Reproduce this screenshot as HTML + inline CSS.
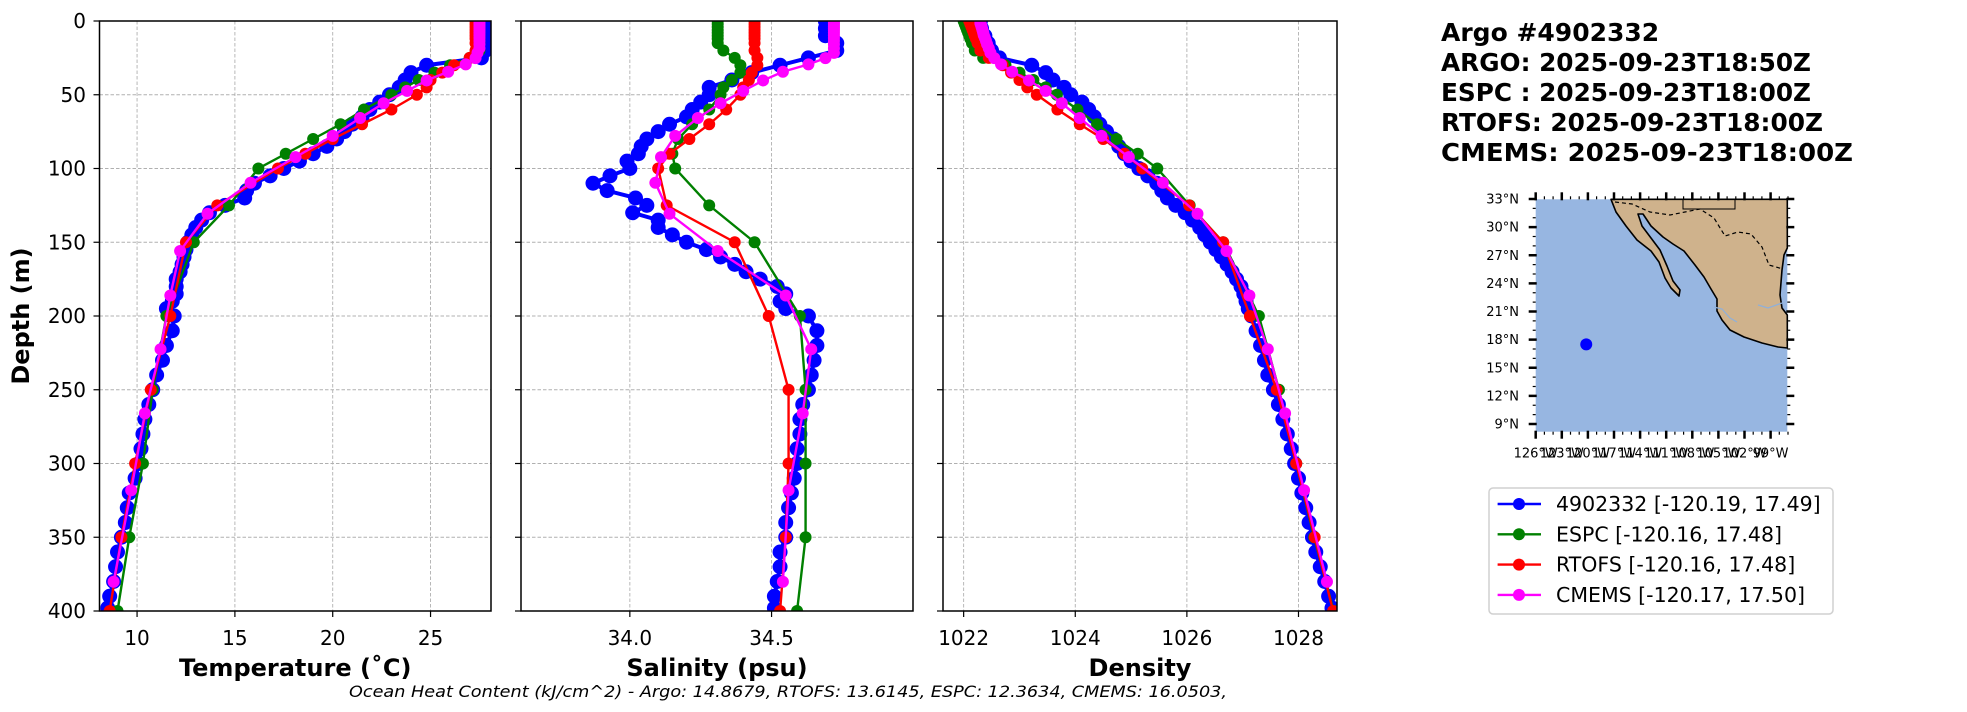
<!DOCTYPE html>
<html><head><meta charset="utf-8"><style>
html,body{margin:0;padding:0;background:#fff;}
svg{display:block;font-family:"DejaVu Sans","Liberation Sans",sans-serif;}
</style></head><body>
<svg id="fig" width="1967" height="712" viewBox="0 0 1967 712" xmlns="http://www.w3.org/2000/svg">
<g id="panels"></g>
<g id="title" font-weight="bold" font-size="25" fill="#000">
<text x="1441" y="41">Argo #4902332</text>
<text x="1441" y="71" textLength="370" lengthAdjust="spacingAndGlyphs">ARGO: 2025-09-23T18:50Z</text>
<text x="1441" y="101" textLength="370" lengthAdjust="spacingAndGlyphs">ESPC : 2025-09-23T18:00Z</text>
<text x="1441" y="131" textLength="382" lengthAdjust="spacingAndGlyphs">RTOFS: 2025-09-23T18:00Z</text>
<text x="1441" y="161" textLength="412" lengthAdjust="spacingAndGlyphs">CMEMS: 2025-09-23T18:00Z</text>
</g>
<g id="map"></g>
<g id="legend"></g>
<text x="349" y="697" font-size="16" font-style="italic" textLength="878" lengthAdjust="spacingAndGlyphs">Ocean Heat Content (kJ/cm^2) - Argo: 14.8679,  RTOFS: 13.6145,  ESPC: 12.3634,  CMEMS: 16.0503,</text>
</svg>
<script>
// ---- data ----
const argoDepth = [0,5,10,15,20,25,30,35,40,45,50,55,60,65,70,75,80,85,90,95,100,105,110,115,120,125,130,135,140,145,150,155,160,165,170,175,180,185,190,195,200,210,220,230,240,250,260,270,280,290,300,310,320,330,340,350,360,370,380,390,398];
const argoTemp = [27.8,27.8,27.8,27.8,27.8,27.6,24.8,24.0,23.7,23.4,22.9,22.4,21.9,21.5,21.0,20.6,20.2,19.7,19.0,18.3,17.5,16.8,16.0,15.6,15.5,14.5,13.7,13.3,13.0,12.8,12.6,12.5,12.4,12.3,12.2,12.0,12.0,12.0,11.8,11.5,11.9,11.8,11.5,11.3,11.0,10.8,10.6,10.4,10.3,10.2,10.1,9.9,9.6,9.5,9.4,9.2,9.0,8.9,8.8,8.6,8.5];
const argoSal = [34.69,34.69,34.69,34.73,34.73,34.63,34.53,34.43,34.36,34.28,34.28,34.25,34.22,34.2,34.14,34.1,34.06,34.04,34.03,33.99,34.0,33.93,33.87,33.92,34.02,34.06,34.01,34.1,34.1,34.15,34.2,34.27,34.32,34.37,34.41,34.46,34.52,34.55,34.53,34.55,34.63,34.66,34.66,34.65,34.64,34.63,34.61,34.6,34.6,34.59,34.59,34.58,34.57,34.56,34.55,34.55,34.53,34.53,34.52,34.51,34.51];
const argoDens = [1022.3,1022.32,1022.38,1022.44,1022.5,1022.64,1023.22,1023.47,1023.6,1023.8,1023.92,1024.12,1024.24,1024.34,1024.44,1024.56,1024.69,1024.78,1024.88,1025.0,1025.14,1025.3,1025.46,1025.55,1025.65,1025.8,1025.97,1026.1,1026.23,1026.32,1026.42,1026.52,1026.62,1026.72,1026.81,1026.89,1026.97,1027.02,1027.06,1027.1,1027.16,1027.24,1027.32,1027.39,1027.45,1027.55,1027.64,1027.72,1027.8,1027.87,1027.93,1028.0,1028.06,1028.13,1028.19,1028.25,1028.31,1028.39,1028.47,1028.54,1028.6];
const modelDepth = [0,2,4,6,8,10,12,15,20,25,30,35,40,45,50,60,70,80,90,100,125,150,200,250,300,350,400];
const espcTemp = [27.5,27.5,27.5,27.5,27.5,27.5,27.5,27.5,27.5,27.0,26.0,25.2,24.4,23.7,23.0,21.6,20.4,19.0,17.6,16.2,14.7,12.9,11.5,10.8,10.3,9.6,9.0];
const espcSal = [34.31,34.31,34.31,34.31,34.31,34.31,34.31,34.31,34.33,34.37,34.39,34.39,34.36,34.33,34.32,34.28,34.22,34.17,34.15,34.16,34.28,34.44,34.6,34.62,34.62,34.62,34.59];
const espcDens = [1022.0,1022.02,1022.04,1022.06,1022.08,1022.1,1022.12,1022.15,1022.2,1022.35,1022.75,1023.0,1023.25,1023.47,1023.67,1024.04,1024.39,1024.74,1025.12,1025.47,1026.05,1026.65,1027.29,1027.65,1027.96,1028.28,1028.63];
const rtofsTemp = [27.3,27.3,27.3,27.3,27.3,27.3,27.3,27.3,27.3,27.0,26.2,25.6,25.0,24.8,24.3,23.0,21.5,20.0,18.6,17.2,14.1,12.5,11.7,10.7,9.9,9.2,8.6];
const rtofsSal = [34.44,34.44,34.44,34.44,34.44,34.44,34.44,34.44,34.44,34.45,34.45,34.43,34.42,34.4,34.39,34.34,34.28,34.21,34.14,34.1,34.13,34.37,34.49,34.56,34.56,34.55,34.53];
const rtofsDens = [1022.1,1022.12,1022.14,1022.16,1022.18,1022.2,1022.22,1022.25,1022.3,1022.45,1022.7,1022.85,1023.0,1023.14,1023.31,1023.68,1024.08,1024.5,1024.88,1025.2,1026.04,1026.65,1027.13,1027.61,1027.96,1028.29,1028.62];
const cmemsDepth = [0.5,1.5,2.6,3.8,5.1,6.4,7.9,9.6,11.4,13.5,15.8,18.5,21.6,25.2,29.4,34.4,40.3,47.4,55.8,65.8,77.9,92.3,109.7,130.7,155.9,186.1,222.5,266,318.1,380.2];
const cmemsTemp = [27.5,27.5,27.5,27.5,27.5,27.5,27.5,27.5,27.5,27.5,27.5,27.5,27.4,27.3,26.8,25.9,24.8,23.8,22.6,21.4,20.0,18.1,15.8,13.6,12.2,11.7,11.2,10.4,9.7,8.8];
const cmemsSal = [34.72,34.72,34.72,34.72,34.72,34.72,34.72,34.72,34.72,34.72,34.72,34.72,34.72,34.69,34.63,34.54,34.47,34.40,34.32,34.24,34.16,34.11,34.09,34.14,34.31,34.55,34.64,34.61,34.56,34.54];
const cmemsDens = [1022.3,1022.3,1022.31,1022.32,1022.33,1022.34,1022.35,1022.36,1022.38,1022.4,1022.42,1022.45,1022.48,1022.55,1022.67,1022.87,1023.17,1023.47,1023.76,1024.08,1024.47,1024.96,1025.57,1026.19,1026.71,1027.12,1027.45,1027.76,1028.1,1028.51];
const depthTicks = [0,50,100,150,200,250,300,350,400];
const tempTicks = [10,15,20,25];
const salTicks = [34.0,34.5];
const salTickLabels = ["34.0","34.5"];
const densTicks = [1022,1024,1026,1028];
const legendLabels = ["4902332 [-120.19, 17.49]","ESPC [-120.16, 17.48]","RTOFS [-120.16, 17.48]","CMEMS [-120.17, 17.50]"];
const argoLon = -120.19, argoLat = 17.49;
const mapLatTicks = [9,12,15,18,21,24,27,30,33];
const mapLonTicks = [-126,-123,-120,-117,-114,-111,-108,-105,-102,-99];

const NS = "http://www.w3.org/2000/svg";
function mk(tag, attrs, parent){ const e=document.createElementNS(NS,tag); for(const k in attrs) e.setAttribute(k,attrs[k]); if(parent) parent.appendChild(e); return e; }

const top_=21, bot=611;
const yScale = d => top_ + (d/400)*(bot-top_);
const panels = [
 {name:"temperature", x0:99.5, x1:491, lo:8.08, hi:28.09, ticks:tempTicks, labels:tempTicks.map(String), xlabel:"Temperature (˚C)",
  series:[[argoDepth,argoTemp],[modelDepth,espcTemp],[modelDepth,rtofsTemp],[cmemsDepth,cmemsTemp]]},
 {name:"salinity", x0:521, x1:913, lo:33.616, hi:34.999, ticks:salTicks, labels:salTickLabels, xlabel:"Salinity (psu)",
  series:[[argoDepth,argoSal],[modelDepth,espcSal],[modelDepth,rtofsSal],[cmemsDepth,cmemsSal]]},
 {name:"density", x0:943, x1:1337, lo:1021.63, hi:1028.69, ticks:densTicks, labels:densTicks.map(String), xlabel:"Density",
  series:[[argoDepth,argoDens],[modelDepth,espcDens],[modelDepth,rtofsDens],[cmemsDepth,cmemsDens]]}
];
const colors = ["#0000ff","#008000","#ff0000","#ff00ff"];
const snames = ["argo","espc","rtofs","cmems"];
const radii = [7.5,6,6,6];
const root = document.getElementById("panels");
panels.forEach((p,pi)=>{
  const g = mk("g",{},root);
  
  
  const xs = v => p.x0 + (v-p.lo)/(p.hi-p.lo)*(p.x1-p.x0);
  const clipId="clip"+pi;
  const cp=mk("clipPath",{id:clipId},g); mk("rect",{x:p.x0,y:top_,width:p.x1-p.x0,height:bot-top_},cp);
  depthTicks.forEach(d=>{ if(d>0&&d<400){ const l=mk("line",{x1:p.x0,x2:p.x1,y1:yScale(d),y2:yScale(d),stroke:"#b0b0b0","stroke-width":0.9,"stroke-dasharray":"3.5,2"},g);
    
     }});
  p.ticks.forEach((t,i)=>{
    const x=xs(t);
    const l=mk("line",{x1:x,x2:x,y1:top_,y2:bot,stroke:"#b0b0b0","stroke-width":0.9,"stroke-dasharray":"3.5,2"},g);
    
    
    mk("line",{x1:x,x2:x,y1:bot,y2:bot+6,stroke:"#000","stroke-width":1.2},g);
    const tx=mk("text",{x:x,y:645,"font-size":20,"text-anchor":"middle"},g); tx.textContent=p.labels[i];
    
    
  });
  depthTicks.forEach(d=>{
    mk("line",{x1:p.x0-6,x2:p.x0,y1:yScale(d),y2:yScale(d),stroke:"#000","stroke-width":1.2},g);
    if(pi===0){ const tx=mk("text",{x:86,y:yScale(d)+7,"font-size":20,"text-anchor":"end"},g); tx.textContent=String(d);
      
       }
  });
  const sg=mk("g",{"clip-path":"url(#"+clipId+")"},g);
  p.series.forEach((s,si)=>{
    const [ds,vs]=s;
    const pts=ds.map((d,i)=>xs(vs[i]).toFixed(2)+","+yScale(d).toFixed(2)).join(" ");
    const ln=mk("polyline",{points:pts,fill:"none",stroke:colors[si],"stroke-width":si===0?4:2.4},sg);
    
    
    ds.forEach((d,i)=>{ const c=mk("circle",{cx:xs(vs[i]),cy:yScale(d),r:radii[si],fill:colors[si]},sg);
      
       });
  });
  const fr=mk("rect",{x:p.x0,y:top_,width:p.x1-p.x0,height:bot-top_,fill:"none",stroke:"#000","stroke-width":1.5},g);
  
  
  const xl=mk("text",{x:(p.x0+p.x1)/2,y:676,"font-size":24,"font-weight":"bold","text-anchor":"middle"},g); xl.textContent=p.xlabel;
  
  
});
const yl=mk("text",{x:0,y:0,"font-size":24,"font-weight":"bold","text-anchor":"middle",transform:"translate(29,316) rotate(-90)"},root);
yl.textContent="Depth (m)";



// ---- map ----
const mg=document.getElementById("map");
const mx0=1535.7,mx1=1787.3,my0=199.3,my1=431.7;
const lonX = lon => mx0 + (lon+126)*8.7;
const latY = lat => 424 - (lat-9)*(225/24);
const water=mk("rect",{x:mx0,y:my0,width:mx1-mx0,height:my1-my0,fill:"#97b6e1"},mg);


const land=mk("polygon",{points:"1611,199.3 1616,212 1626,226 1637,240 1651,251 1659,262 1665,278 1671,288 1679,296 1680,290 1673,281 1667,266 1660,250 1651,238 1642,226 1638,214 1643,214 1651,226 1663,237 1673,244 1684,251 1695,265 1704,277 1711,289 1717,299 1717,311 1722,320 1730,330 1744,337 1762,343 1778,347 1787.3,348 1787.3,315 1782,308 1780,295 1782,270 1784,255 1787.3,248 1787.3,199.3",fill:"#cfb28c",stroke:"#000","stroke-width":1.6,"stroke-linejoin":"round"},mg);


mk("polyline",{points:"1615,202 1632,204 1650,212 1670,215 1685,212 1700,209 1714,218 1725,236 1738,232 1751,234 1762,247 1769,265 1783,269",fill:"none",stroke:"#000","stroke-width":1.2,"stroke-dasharray":"4,3"},mg);
mk("polyline",{points:"1683,199.3 1683,209 1735,209 1735,199.3",fill:"none",stroke:"#000","stroke-width":1},mg);
mk("polyline",{points:"1714,307 1722,309 1730,318 1737,322",fill:"none",stroke:"#8fb0da","stroke-width":1.2},mg);
mk("polyline",{points:"1758,305 1768,308 1782,303",fill:"none",stroke:"#8fb0da","stroke-width":1.2},mg);
const dot=mk("circle",{cx:lonX(argoLon),cy:latY(argoLat),r:6,fill:"#0000ff"},mg);


mapLatTicks.forEach(la=>{ const y=latY(la);
  mk("line",{x1:mx0-7,x2:mx0+1,y1:y,y2:y,stroke:"#000","stroke-width":2.5},mg);
  mk("line",{x1:mx1-1,x2:mx1+7,y1:y,y2:y,stroke:"#000","stroke-width":2.5},mg);
  const t=mk("text",{x:1519,y:y+4.5,"font-size":13,"text-anchor":"end"},mg); t.textContent=la+"°N";
  
  
});
for(let la=9;la<=33;la++){ const y=latY(la); mk("line",{x1:mx0-3,x2:mx0,y1:y,y2:y,stroke:"#000","stroke-width":1.2},mg); mk("line",{x1:mx1,x2:mx1+3,y1:y,y2:y,stroke:"#000","stroke-width":1.2},mg); }
mapLonTicks.forEach(lo=>{ const x=lonX(lo);
  mk("line",{x1:x,x2:x,y1:my1-1,y2:my1+7,stroke:"#000","stroke-width":2.5},mg);
  mk("line",{x1:x,x2:x,y1:my0-7,y2:my0+1,stroke:"#000","stroke-width":2.5},mg);
  const t=mk("text",{x:x,y:457.6,"font-size":13,"text-anchor":"middle"},mg); t.textContent=(-lo)+"°W";
  
  
});
for(let lo=-126;lo<=-97;lo++){ const x=lonX(lo); mk("line",{x1:x,x2:x,y1:my1,y2:my1+3,stroke:"#000","stroke-width":1.2},mg); mk("line",{x1:x,x2:x,y1:my0-3,y2:my0,stroke:"#000","stroke-width":1.2},mg); }

// ---- legend ----
const lg=document.getElementById("legend");
const box=mk("rect",{x:1489,y:488,width:344,height:126,rx:4,fill:"#fff",stroke:"#d0d0d0","stroke-width":1.5},lg);


legendLabels.forEach((lab,i)=>{
  const y=504+i*30.3;
  const e=mk("g",{},lg);
  
  
  mk("line",{x1:1497.6,x2:1541,y1:y,y2:y,stroke:colors[i],"stroke-width":2.4},e);
  mk("circle",{cx:1519,cy:y,r:6,fill:colors[i]},e);
  const t=mk("text",{x:1556,y:y+7,"font-size":20.5},e); t.textContent=lab;
});
</script>
</body></html>
